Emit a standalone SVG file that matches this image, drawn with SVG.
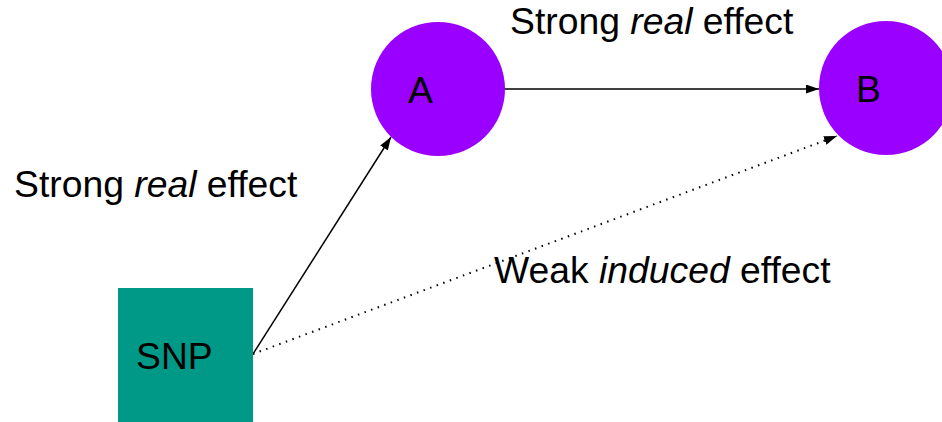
<svg xmlns="http://www.w3.org/2000/svg" width="942" height="422" viewBox="0 0 942 422">
  <style>
    .lbl { font-family: "Liberation Sans", Arial, sans-serif; font-size: 37.3px; fill: #000; }
    .node { fill: #9900FF; }
    .edge { stroke: #000; stroke-width: 1.5; fill: none; }
    .dotted { stroke-dasharray: 1.5 5.5; stroke-width: 2; }
  </style>
  <defs>
    <marker id="arrowLg" viewBox="0 0 12 10" refX="12" refY="5" markerWidth="13" markerHeight="9" markerUnits="userSpaceOnUse" orient="auto" preserveAspectRatio="none">
      <path d="M0,0 L12,5 L0,10 z" fill="#000"/>
    </marker>
  </defs>

  <rect width="942" height="422" fill="#fff"/>

  <!-- connectors -->
  <g id="connectors">
    <line class="edge" x1="504" y1="89" x2="819" y2="89" marker-end="url(#arrowLg)"/>
    <line class="edge" x1="253" y1="354" x2="391" y2="137" marker-end="url(#arrowLg)"/>
    <line class="edge dotted" x1="253" y1="354" x2="837" y2="136" marker-end="url(#arrowLg)"/>
  </g>

  <!-- nodes -->
  <g id="node-A">
    <circle class="node" cx="438" cy="89" r="67"/>
    <text class="lbl" x="408" y="103" font-size="35">A</text>
  </g>
  <g id="node-B">
    <circle class="node" cx="886" cy="88" r="67"/>
    <text class="lbl" x="856" y="102" font-size="35">B</text>
  </g>
  <g id="node-SNP">
    <rect x="118" y="288" width="135" height="134" fill="#009988"/>
    <text class="lbl" x="136" y="369">SNP</text>
  </g>

  <!-- edge labels -->
  <g id="labels">
    <text class="lbl" x="14" y="197">Strong <tspan font-style="italic">real</tspan> effect</text>
    <text class="lbl" x="510" y="34">Strong <tspan font-style="italic">real</tspan> effect</text>
    <text class="lbl" x="494" y="283">Weak <tspan font-style="italic">induced</tspan> effect</text>
  </g>
</svg>
